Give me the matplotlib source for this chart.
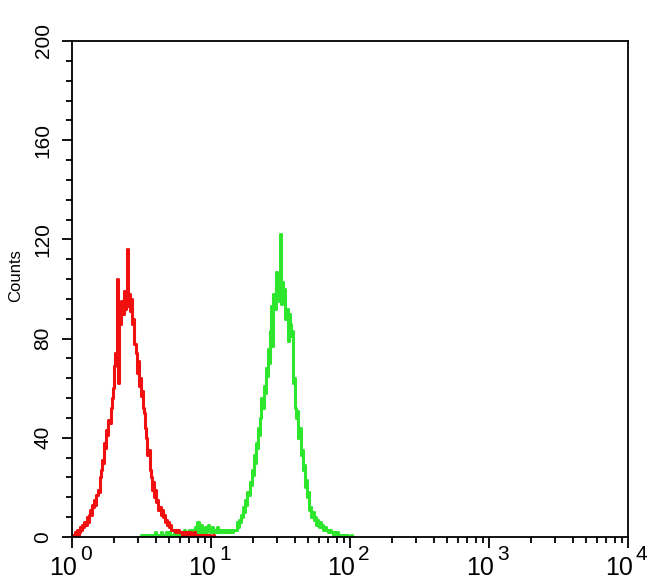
import numpy as np
import matplotlib.pyplot as plt
from matplotlib.ticker import FixedLocator, MultipleLocator, NullFormatter, LogLocator
from matplotlib.transforms import offset_copy

plt.rcParams['font.family'] = ['Liberation Sans', 'DejaVu Sans']

# histogram channels, 128 per decade, first channel sits at 10^0
CH_PER_DECADE = 128

red_start = 0
red_counts = [
    0, 1, 0, 2, 1, 3, 1, 2, 4, 3, 5, 4, 6,
    5, 8, 6, 9, 11, 9, 13, 12, 15, 13, 17, 19, 18,
    24, 27, 31, 30, 38, 36, 43, 41, 47, 46, 52, 56,
    60, 69, 74, 70, 104, 62, 88, 86, 95, 90, 99,
    92, 97, 116, 93, 98, 91, 96,
    86, 88, 78, 74, 66, 71, 61, 64, 57, 59, 52,
    50, 44, 40, 33, 35, 27, 24, 19, 22, 16, 19,
    14, 15, 11, 12, 9, 11, 8, 9, 6, 7, 5, 6, 4, 5, 3,
    3, 3, 2, 3, 2, 3, 2, 2,
    2, 1, 2, 2, 1, 2, 1, 1, 2, 1, 1, 1, 2, 1, 1, 0, 1, 1, 1, 0,
    1, 0, 1, 1, 0, 0, 1, 0, 0, 1, 0,
]

green_start = 63
green_counts = [
    0, 1, 0, 0, 1, 0, 1, 1, 0, 1, 0, 1, 1, 0, 2, 1, 1, 0,
    1, 2, 1, 1, 0, 1, 2, 1, 1, 2, 1, 0, 1, 2, 1, 1, 2, 1, 2, 1,
    2, 1, 2, 3, 1, 2, 1, 3, 2, 3, 2, 3, 2, 4, 1, 6, 2, 3, 5, 2,
    3, 2, 4, 2, 3, 5, 3, 2, 4, 2, 3, 3, 2, 4, 2, 3, 2, 3, 2, 3,
    2, 3, 2, 2, 3, 2, 3, 2, 3, 3,
    3, 6, 4, 7, 6, 9, 8, 12, 10, 15,
    13, 18, 17, 22, 21, 27, 25, 33, 30, 38,
    36, 44, 41, 48, 56, 52, 61, 58, 68, 65,
    76, 70, 83, 93, 77, 98, 92, 107, 96, 104,
    95, 122, 94, 103, 97, 100, 88, 92, 79, 90,
    86, 81, 83, 62, 64, 52, 48, 51, 40, 44,
    33, 35, 27, 29, 20, 23, 16, 18, 11, 12,
    8, 10, 7, 8, 5, 7, 6, 4, 6, 4, 5,
    3, 4, 3, 3, 2, 2, 3, 2, 2, 1, 2, 1, 2, 1,
    1, 1, 0, 1, 1, 0, 1, 0, 1, 0, 0, 1, 0, 0, 0,
]

y_ticks = [0, 40, 80, 120, 160, 200]
decades = [0, 1, 2, 3, 4]


def channel_x(start, n):
    return 10 ** ((start + np.arange(n)) / CH_PER_DECADE)


fig = plt.figure(figsize=(6.5, 5.85), dpi=100)
ax = fig.add_axes([72 / 650, 48 / 585, 556 / 650, 496 / 585])

ax.plot(channel_x(green_start, len(green_counts)), green_counts,
        color='#2ee62e', lw=2.2, drawstyle='steps-mid')
ax.plot(channel_x(red_start, len(red_counts)), red_counts,
        color='#f01010', lw=2.2, drawstyle='steps-mid')

ax.set_xscale('log')
ax.set_xlim(1, 1e4)
ax.set_ylim(0, 200)

ax.xaxis.set_major_locator(FixedLocator([10 ** d for d in decades]))
ax.xaxis.set_minor_locator(LogLocator(base=10, subs=np.arange(2, 10)))
ax.xaxis.set_major_formatter(NullFormatter())
ax.xaxis.set_minor_formatter(NullFormatter())
ax.yaxis.set_major_locator(FixedLocator(y_ticks))
ax.yaxis.set_minor_locator(MultipleLocator(8))

for s in ax.spines.values():
    s.set_linewidth(1.3)
ax.tick_params(axis='x', which='major', length=8, width=1.3)
ax.tick_params(axis='x', which='minor', length=4, width=1.3)
ax.tick_params(axis='y', which='major', length=7, width=1.3, pad=7,
               labelsize=15, labelrotation=90)
ax.tick_params(axis='y', which='minor', length=4.5, width=1.3)
for lab in ax.get_yticklabels():
    lab.set_va('center')

# decade labels drawn as "10" plus a large superscript, like the cytometer output
base_tr = offset_copy(ax.get_xaxis_transform(), fig=fig, x=5, y=-38, units='dots')
exp_tr = offset_copy(ax.get_xaxis_transform(), fig=fig, x=8, y=-23, units='dots')
for d in decades:
    ax.text(10 ** d, 0, '10', transform=base_tr, ha='right', va='baseline',
            fontsize=18, clip_on=False)
    ax.text(10 ** d, 0, str(d), transform=exp_tr, ha='left', va='baseline',
            fontsize=15, clip_on=False)

fig.text(16 / 650, 1 - 276 / 585, 'Counts', rotation=90, ha='center',
         va='center', fontsize=12)

fig.savefig('out.png', dpi=100)
